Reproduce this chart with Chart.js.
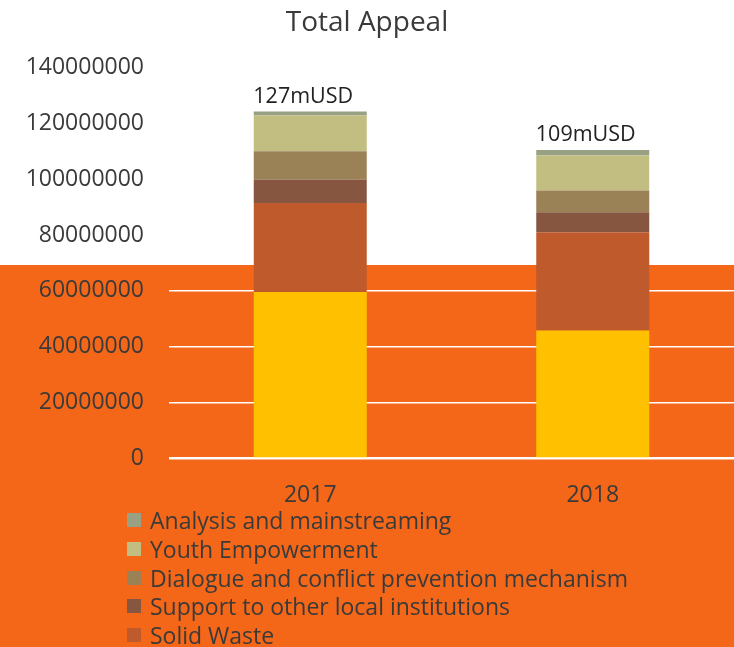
<!DOCTYPE html>
<html>
<head>
<meta charset="utf-8">
<script src="https://cdn.jsdelivr.net/npm/chart.js@4.4.0/dist/chart.umd.min.js"></script>
<style>
    html, body { margin: 0; padding: 0; width: 734px; height: 647px; overflow: hidden; }
    body {
        position: relative;
        background: linear-gradient(to bottom, #ffffff 0, #ffffff 265px, #F46718 265px);
        font-family: 'Open Sans', sans-serif;
    }
    #wrap { position: relative; width: 734px; height: 524px; }
    #legend { position: absolute; left: 0; top: 506px; list-style: none; margin: 0; padding: 0 0 0 127px; }
    #legend li { display: flex; align-items: center; height: 28.7px; font-size: 23px; color: #3a3a3a; white-space: nowrap; }
    #legend .box { width: 14px; height: 14px; margin-right: 9px; flex: none; }
</style>
</head>
<body>
<div id="wrap"><canvas id="appealChart"></canvas></div>
<ul id="legend"></ul>
<script>
// Data
const categories = ['2017', '2018'];
const seriesNames = [
    'Municipal services',
    'Solid Waste',
    'Support to other local institutions',
    'Dialogue and conflict prevention mechanism',
    'Youth Empowerment',
    'Analysis and mainstreaming'
];
const municipalServices = [59600000, 45800000];
const solidWaste = [31900000, 35200000];
const supportInstitutions = [8400000, 7200000];
const dialogueConflict = [10100000, 7800000];
const youthEmpowerment = [12800000, 12500000];
const analysisMainstreaming = [1500000, 2000000];
const totalLabels = ['127mUSD', '109mUSD'];
const yMax = 140000000;
const yStep = 20000000;

// Series colors
const seriesColors = ['#FFC000', '#BF5A2D', '#875640', '#9B8156', '#C2BE82', '#98A181'];

const seriesValues = [
    municipalServices, solidWaste, supportInstitutions,
    dialogueConflict, youthEmpowerment, analysisMainstreaming
];

const textColor = '#3a3a3a';
const fontFamily = "'Open Sans', sans-serif";

// Total labels above each stack
const totalLabelPlugin = {
    id: 'totalLabels',
    afterDatasetsDraw(chart) {
        const ctx = chart.ctx;
        const topMeta = chart.getDatasetMeta(chart.data.datasets.length - 1);
        ctx.save();
        ctx.font = `21.5px ${fontFamily}`;
        ctx.fillStyle = '#222';
        ctx.textAlign = 'center';
        ctx.textBaseline = 'bottom';
        topMeta.data.forEach((bar, i) => {
            ctx.fillText(totalLabels[i], bar.x - 7, bar.y - 4);
        });
        ctx.restore();
    }
};

const ctx = document.getElementById('appealChart').getContext('2d');
const chart = new Chart(ctx, {
    type: 'bar',
    data: {
        labels: categories,
        datasets: seriesNames.map((name, i) => ({
            label: name,
            data: seriesValues[i],
            backgroundColor: seriesColors[i],
            borderWidth: 0,
            categoryPercentage: 1,
            barPercentage: 0.4
        }))
    },
    options: {
        responsive: true,
        maintainAspectRatio: false,
        animation: false,
        layout: { padding: { left: 0, right: 0, top: 0, bottom: 0 } },
        plugins: {
            legend: { display: false },
            tooltip: { enabled: false },
            title: {
                display: true,
                text: 'Total Appeal',
                color: textColor,
                font: { family: fontFamily, size: 28, weight: 'normal' },
                padding: { top: 6, bottom: 28 }
            }
        },
        scales: {
            x: {
                stacked: true,
                grid: { display: false },
                border: { display: false },
                ticks: {
                    color: textColor,
                    padding: 15,
                    font: { family: fontFamily, size: 23 }
                }
            },
            y: {
                stacked: true,
                min: 0,
                max: yMax,
                afterFit: scale => { scale.width = 169; },
                grid: {
                    color: '#ffffff',
                    lineWidth: ctx => ctx.tick.value === 0 ? 2.5 : 1.5,
                    drawTicks: false
                },
                border: { display: false },
                ticks: {
                    stepSize: yStep,
                    color: textColor,
                    padding: 25,
                    font: { family: fontFamily, size: 23 },
                    callback: value => String(value)
                }
            }
        }
    },
    plugins: [totalLabelPlugin]
});

// HTML legend, listed top series first
const legendEl = document.getElementById('legend');
chart.data.datasets.slice().reverse().forEach(ds => {
    const li = document.createElement('li');
    const box = document.createElement('span');
    box.className = 'box';
    box.style.background = ds.backgroundColor;
    li.appendChild(box);
    li.appendChild(document.createTextNode(ds.label));
    legendEl.appendChild(li);
});
</script>
</body>
</html>
